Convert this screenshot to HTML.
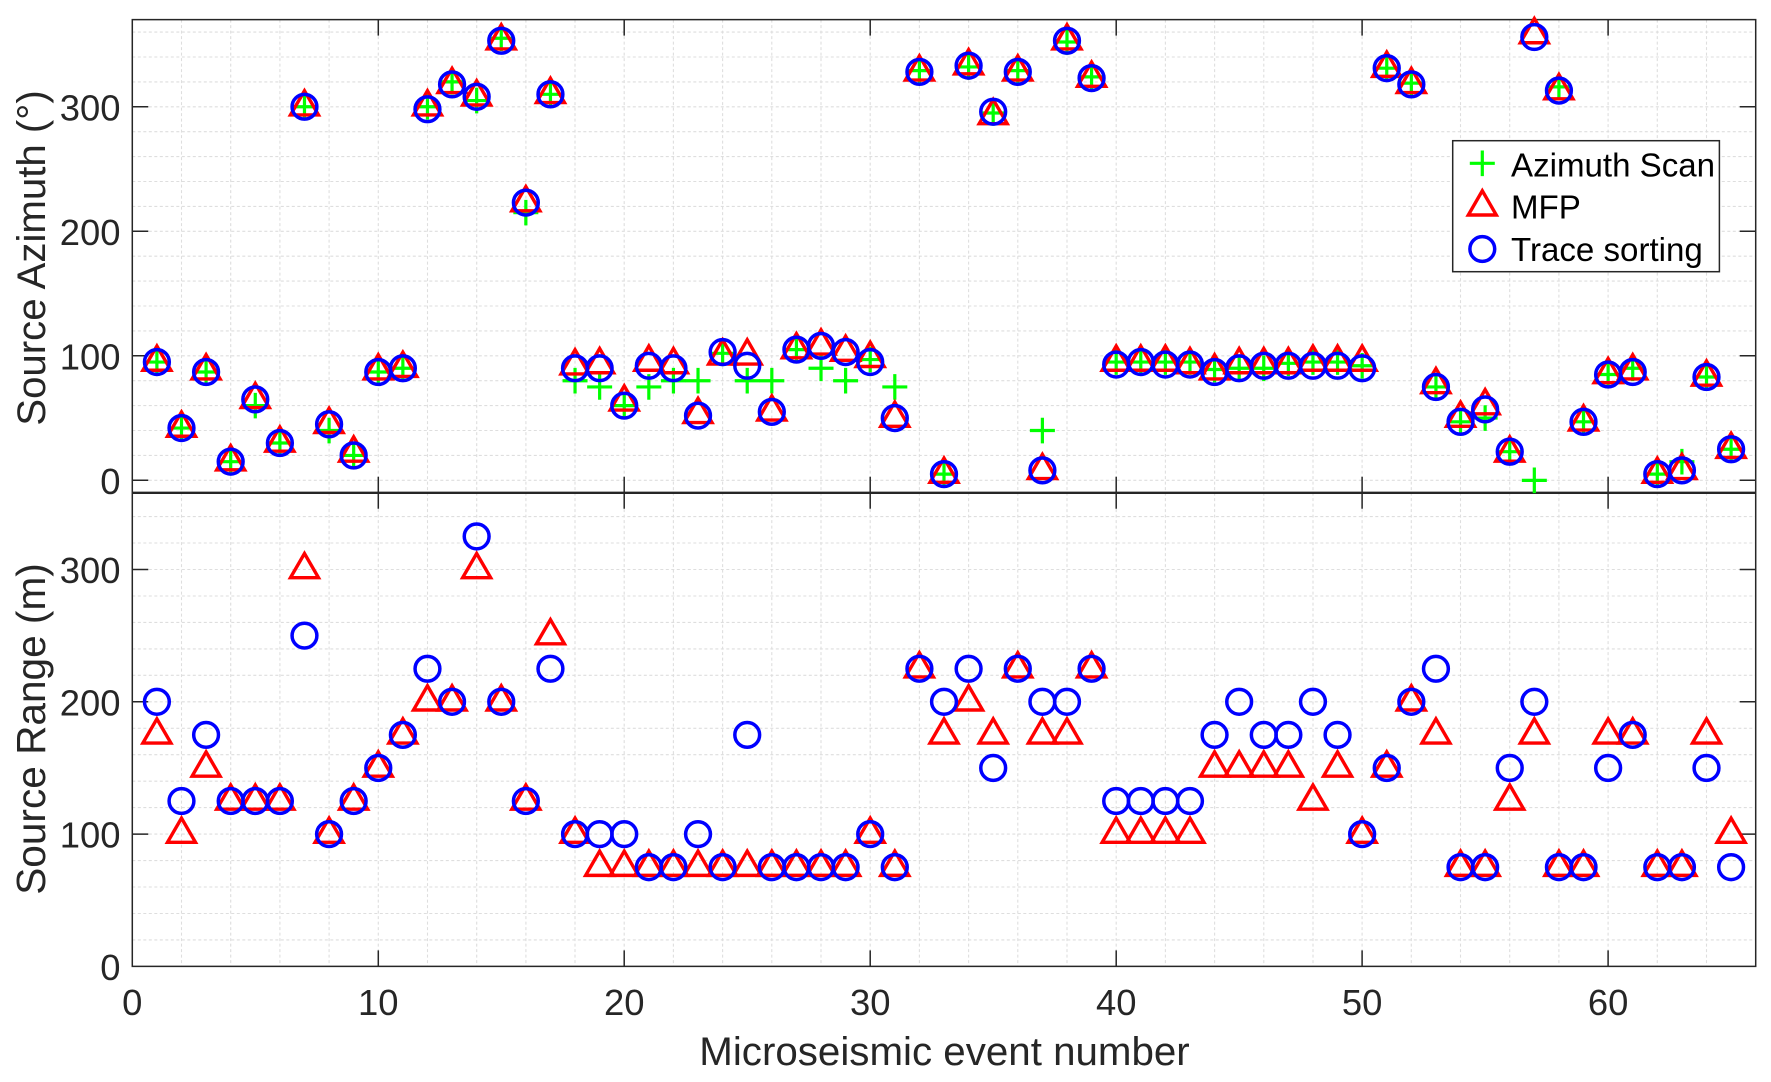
<!DOCTYPE html>
<html>
<head>
<meta charset="utf-8">
<title>Microseismic source azimuth and range</title>
<style>
html,body{margin:0;padding:0;background:#fff;width:1771px;height:1082px;overflow:hidden}
svg{display:block;font-family:"Liberation Sans",Arial,sans-serif}
</style>
</head>
<body>
<svg id="chart" width="1771" height="1082" viewBox="0 0 1771 1082" xmlns="http://www.w3.org/2000/svg">
  <rect x="0" y="0" width="1771" height="1082" fill="#fff"/>
  <g id="grid" stroke="#dedede" stroke-width="1.1" stroke-dasharray="3 2.5" fill="none"></g>
  <g id="axes" stroke="#262626" fill="none"></g>
  <g id="tickLabels" fill="#262626" font-size="36.4"></g>
  <text transform="translate(44.8,258) rotate(-90)" text-anchor="middle" font-size="40.2" fill="#262626">Source Azimuth (°)</text>
  <text transform="translate(44.8,729) rotate(-90)" text-anchor="middle" font-size="40.6" fill="#262626">Source Range (m)</text>
  <text x="944.5" y="1065" text-anchor="middle" font-size="40.3" fill="#262626">Microseismic event number</text>
  <g id="marks" fill="none"></g>
  <g>
    <rect x="1452.7" y="140.7" width="266.7" height="131" fill="#fff" stroke="#262626" stroke-width="1.5"/>
    <path d="M1469.8 163.3H1494.8M1482.3 150.5V176.1" stroke="#00ff00" stroke-width="3.2" fill="none"/>
    <path d="M1468.3 215H1496.3L1482.3 190.8Z" stroke="#ff0000" stroke-width="3.4" stroke-linejoin="miter" fill="none"/>
    <circle cx="1482.3" cy="249" r="12.4" stroke="#0000ff" stroke-width="3.5" fill="none"/>
    <text x="1511" y="176.7" font-size="33.1" fill="#000">Azimuth Scan</text>
    <text x="1511" y="218.3" font-size="33.1" fill="#000">MFP</text>
    <text x="1511" y="261" font-size="33.1" fill="#000">Trace sorting</text>
  </g>
</svg>
<script>
const xTickLabels = [0, 10, 20, 30, 40, 50, 60];
const yTickLabels = [0, 100, 200, 300];
const azimuthScan = [95,42,87,15,60,30,300,40,20,87,90,300,320,305,355,215,310,80,75,60,75,80,80,102,80,80,105,90,80,97,75,329,5,332,295,329,40,352,324,95,95,95,95,89,90,90,94,95,95,92,331,319,75,47,50,23,0,316,47,85,90,5,15,83,25];
const azimuthMfp = [95,42,88,15,65,30,300,45,22,88,90,300,318,308,353,223,310,92,93,63,95,93,53,100,100,55,105,108,103,98,50,328,5,333,293,328,8,353,323,95,95,95,93,88,93,93,93,95,95,95,331,318,77,50,60,22,358,313,47,85,88,5,8,83,25];
const azimuthTrace = [95,42,87,15,65,30,300,45,20,87,90,298,318,308,353,223,310,90,90,60,92,90,52,103,92,55,105,108,103,95,50,328,5,333,296,328,8,353,323,93,95,93,93,87,90,92,92,92,92,90,331,318,75,47,57,23,356,313,47,85,87,5,8,83,25];
const rangeMfp = [175,100,150,125,125,125,300,100,125,150,175,200,200,300,200,125,250,100,75,75,75,75,75,75,75,75,75,75,75,100,75,225,175,200,175,225,175,175,225,100,100,100,100,150,150,150,150,125,150,100,150,200,175,75,75,125,175,75,75,175,175,75,75,175,100];
const rangeTrace = [200,125,175,125,125,125,250,100,125,150,175,225,200,325,200,125,225,100,100,100,75,75,100,75,175,75,75,75,75,100,75,225,200,225,150,225,200,200,225,125,125,125,125,175,200,175,175,200,175,100,150,200,225,75,75,150,200,75,75,150,175,75,75,150,75];

const NS = 'http://www.w3.org/2000/svg';
const left = 132.3, right = 1755.7;
const topY = 19.6, sepY = 492.8, botY = 966.4;
const xMax = 66;
function sx(v) { return left + (right - left) * v / xMax; }
function syAz(v) { return sepY - (sepY - topY) * (v + 10) / 380; }
function syRange(v) { return botY - v * 1.323; }
function make(tag, attrs, parent) {
  const el = document.createElementNS(NS, tag);
  for (const k in attrs) el.setAttribute(k, attrs[k]);
  parent.appendChild(el);
  return el;
}
const grid = document.getElementById('grid');
const axes = document.getElementById('axes');
const tickGroup = document.getElementById('tickLabels');
const marks = document.getElementById('marks');

let gridPath = '';
for (let v = 2; v < xMax; v += 2) {
  gridPath += 'M' + sx(v).toFixed(1) + ' ' + topY + 'V' + botY;
}
for (let v = 0; v <= 360; v += 20) {
  gridPath += 'M' + left + ' ' + syAz(v).toFixed(1) + 'H' + right;
}
for (let v = 20; v <= 340; v += 20) {
  gridPath += 'M' + left + ' ' + syRange(v).toFixed(1) + 'H' + right;
}
const gridEl = make('path', { d: gridPath }, grid);



const tickLen = 16;
let axisPath = 'M' + left + ' ' + topY + 'H' + right + 'V' + botY + 'H' + left + 'Z';
xTickLabels.forEach(function (v) {
  const x = sx(v).toFixed(1);
  axisPath += 'M' + x + ' ' + topY + 'v' + tickLen;
  axisPath += 'M' + x + ' ' + sepY + 'v' + (-tickLen);
  axisPath += 'M' + x + ' ' + sepY + 'v' + tickLen;
  axisPath += 'M' + x + ' ' + botY + 'v' + (-tickLen);
  const t = make('text', { x: x, y: 1015, 'text-anchor': 'middle' }, tickGroup);
  
  
  t.textContent = v;
});
yTickLabels.forEach(function (v) {
  const ya = syAz(v).toFixed(1), yr = syRange(v).toFixed(1);
  axisPath += 'M' + left + ' ' + ya + 'h' + tickLen + 'M' + right + ' ' + ya + 'h' + (-tickLen);
  axisPath += 'M' + left + ' ' + yr + 'h' + tickLen + 'M' + right + ' ' + yr + 'h' + (-tickLen);
  const a = make('text', { x: 120.5, y: (+ya + 13.6).toFixed(1), 'text-anchor': 'end' }, tickGroup);
  
  
  a.textContent = v;
  const r = make('text', { x: 120.5, y: (+yr + 13.6).toFixed(1), 'text-anchor': 'end' }, tickGroup);
  
  
  r.textContent = v;
});
const axisEl = make('path', { d: axisPath, 'stroke-width': 1.5 }, axes);


const sepEl = make('line', { x1: left, x2: right, y1: sepY, y2: sepY, 'stroke-width': 2.4 }, axes);



function drawPlus(x, y) {
  const p = make('path', { d: 'M' + (x - 12.5) + ' ' + y + 'h25M' + x + ' ' + (y - 12.8) + 'v25.6', stroke: '#00ff00', 'stroke-width': 3.2 }, marks);
  
  
}
function drawTri(x, y) {
  const p = make('path', { d: 'M' + (x - 14) + ' ' + (y + 8.2) + 'h28L' + x + ' ' + (y - 16) + 'Z', stroke: '#ff0000', 'stroke-width': 3.4, 'stroke-linejoin': 'miter' }, marks);
  
  
}
function drawCircle(x, y) {
  const c = make('circle', { cx: x, cy: y, r: 12.4, stroke: '#0000ff', 'stroke-width': 3.5 }, marks);
  
  
}
azimuthScan.forEach(function (v, i) { drawPlus(sx(i + 1), syAz(v)); });
azimuthMfp.forEach(function (v, i) { drawTri(sx(i + 1), syAz(v)); });
azimuthTrace.forEach(function (v, i) { drawCircle(sx(i + 1), syAz(v)); });
rangeMfp.forEach(function (v, i) { drawTri(sx(i + 1), syRange(v)); });
rangeTrace.forEach(function (v, i) { drawCircle(sx(i + 1), syRange(v)); });
</script>
</body>
</html>
